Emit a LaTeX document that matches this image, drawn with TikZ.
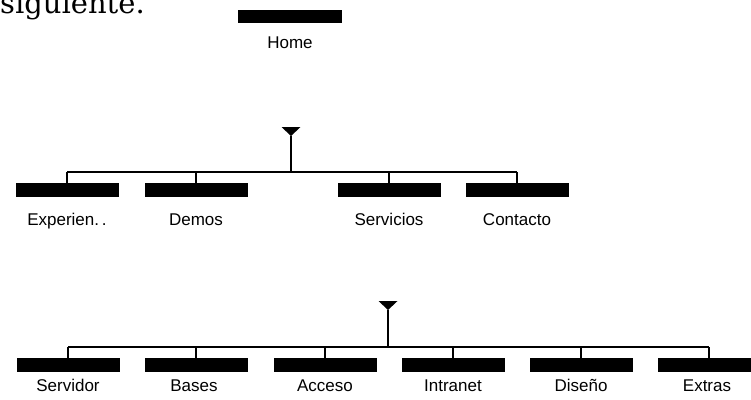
\documentclass[tikz,border=0pt]{standalone}
\usepackage{fontspec}
\setmainfont{Liberation Sans}
\newfontfamily\serifbig{DejaVu Serif}
\begin{document}
\begin{tikzpicture}[x=1pt,y=-1pt,
  blk/.style={fill=black,draw=none,minimum width=103pt,minimum height=14pt,inner sep=0pt,outer sep=0pt},
  lbl/.style={anchor=base,inner sep=0pt,font=\fontsize{17}{17}\selectfont},
  wire/.style={line width=1.7pt,black},
  tri/.style={fill=black}]
\useasboundingbox (0,0) rectangle (751,399);
\clip (0,0) rectangle (751,399);
% partial heading text
\node[anchor=base west, inner sep=0pt, font=\serifbig\fontsize{29}{29}\selectfont] (sig) at (0,13) {siguiente.};
% root
\node[blk, minimum width=104pt, minimum height=13pt] (home) at (290,16.5) {};
\node[lbl] (homel) at (290,48) {Home};
% level 1
\coordinate (t1) at (291,136);
\fill[tri] (t1) -- ++(-9.5,-9) -- ++(19,0) -- cycle;
\coordinate (j1) at (291,172);
\node[blk] (a1) at (67,190) {};
\node[blk] (a2) at (196,190) {};
\node[blk] (a3) at (389,190) {};
\node[blk] (a4) at (517,190) {};
\node[lbl] (a1l) at (67,225) {Experien.\,.};
\node[lbl] (a2l) at (196,225) {Demos};
\node[lbl] (a3l) at (389,225) {Servicios};
\node[lbl] (a4l) at (517,225) {Contacto};
\draw[wire] (t1) -- (j1);
\draw[wire] (a1.north |- j1) -- (a4.north |- j1);
\foreach \n in {a1,a2,a3,a4} \draw[wire] (\n.north |- j1) -- (\n.north);
% level 2
\coordinate (t2) at (388,310);
\fill[tri] (t2) -- ++(-9.5,-9) -- ++(19,0) -- cycle;
\coordinate (j2) at (388,347);
\node[blk] (c1) at (68,365) {};
\node[blk] (c2) at (196,365) {};
\node[blk] (c3) at (325,365) {};
\node[blk] (c4) at (453,365) {};
\node[blk] (c5) at (581,365) {};
\node[blk] (c6) at (709,365) {};
\node[lbl] (c1l) at (68,391) {Servidor};
\node[lbl] (c2l) at (194,391) {Bases};
\node[lbl] (c3l) at (325,391) {Acceso};
\node[lbl] (c4l) at (453,391) {Intranet};
\node[lbl] (c5l) at (581,391) {Diseño};
\node[lbl] (c6l) at (707,391) {Extras};
\draw[wire] (t2) -- (j2);
\draw[wire] (c1.north |- j2) -- (c6.north |- j2);
\foreach \n in {c1,c2,c3,c4,c5,c6} \draw[wire] (\n.north |- j2) -- (\n.north);
\end{tikzpicture}
\end{document}
